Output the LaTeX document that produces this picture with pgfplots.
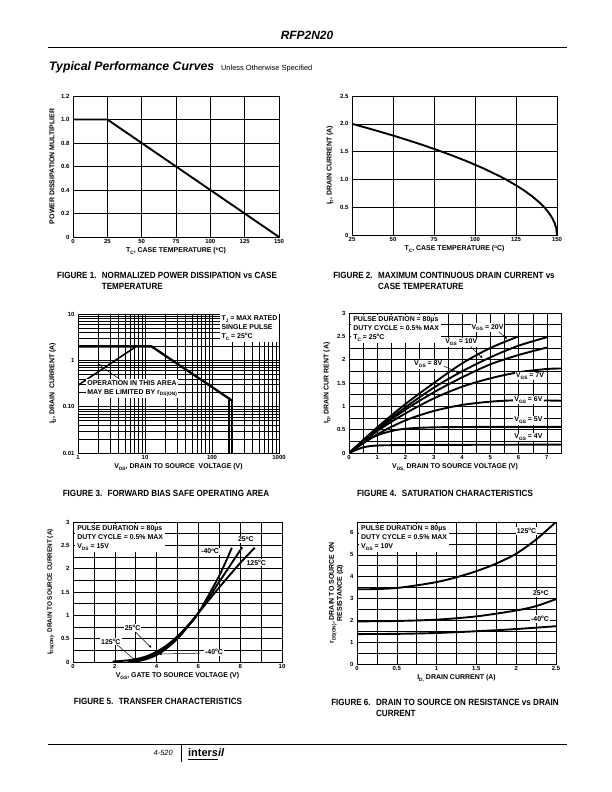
\documentclass[border=0pt]{standalone}
\usepackage{pgfplots}
\pgfplotsset{compat=1.18}
\usepackage{fontspec}
\setmainfont{Liberation Sans}
\newfontfamily\capfont[FakeStretch=0.9]{Liberation Sans}
\usetikzlibrary{arrows.meta}
\newcommand\sub[1]{\raisebox{-0.45ex}{\fontsize{4.8}{5}\selectfont #1}}
\newcommand\degC{\raisebox{0.75ex}{\fontsize{4.5}{4.5}\selectfont o}C}
\newcommand\annot{\fontsize{7}{9}\selectfont\bfseries}
\newcommand\capf{\capfont\fontsize{9}{10.5}\selectfont\bfseries}
\pgfplotsset{
  ds/.style={scale only axis, anchor=south west,
    axis line style={line width=0.9pt},
    grid=both,
    major grid style={black, line width=0.45pt},
    minor grid style={black, line width=0.45pt},
    major tick length=0pt, minor tick length=0pt,
    ticklabel style={font=\fontsize{6}{6.5}\selectfont\bfseries},
    /pgf/number format/assume math mode=true,
    label style={font=\fontsize{7}{8}\selectfont\bfseries},
    xticklabel style={yshift=1pt},
    xlabel style={yshift=3pt},
  },
  crv/.style={black, line width=1.9pt, no marks, line join=round},
}
\tikzset{
  tag/.style={fill=white, inner sep=1pt, font=\annot},
  tbox/.style={fill=white, inner sep=2pt, align=left, font=\annot},
  arr/.style={-{Latex[length=3pt,width=2.5pt]}, line width=0.5pt},
}
\begin{document}
\begin{tikzpicture}
\fill[white] (0,0) rectangle (612bp,792bp);
\path[use as bounding box] (0,0) rectangle (612bp,792bp);

% header
\node[font=\fontsize{12}{13}\selectfont\bfseries\itshape] at (307bp,757bp) {RFP2N20};
\draw[line width=1pt] (48bp,744bp) -- (567bp,744bp);
\node[anchor=base west, inner sep=0pt] at (49bp,721bp) {\fontsize{12.3}{14}\selectfont\bfseries\itshape Typical Performance Curves\ \ \fontsize{7.5}{8}\selectfont\mdseries\upshape Unless Otherwise Specified};

% footer
\draw[line width=1pt] (48bp,48bp) -- (567bp,48bp);
\draw[line width=0.8pt] (181bp,48bp) -- (181bp,30bp);
\node[anchor=base east, inner sep=0pt, font=\fontsize{7.5}{8}\selectfont\itshape] at (173bp,37bp) {4-520};
\node[anchor=base west, inner sep=0pt, font=\fontsize{11}{12}\selectfont\bfseries] (logo) at (188bp,36bp) {inter\textit{sil}};
\draw[line width=0.9pt] (188bp,33bp) -- (218bp,33bp);

% ---------------- Figure 1
\begin{axis}[ds, at={(73bp,555bp)}, width=206bp, height=141bp,
  xmin=0, xmax=150, ymin=0, ymax=1.2,
  xtick={0,25,50,75,100,125,150},
  ytick={0,0.2,0.4,0.6,0.8,1,1.2},
  yticklabels={0,0.2,0.4,0.6,0.8,1.0,1.2},
  xlabel={T\sub{C}, CASE TEMPERATURE (\degC)},
  ylabel={POWER DISSIPATION MULTIPLIER}]
\addplot[crv] coordinates {(0,1) (25,1) (150,0)};
\end{axis}
\node[anchor=north, font=\capf] at (167bp,524bp)
  {\begin{tabular}{@{}l@{\hspace{0.6em}}l@{}}FIGURE 1. & NORMALIZED POWER DISSIPATION vs CASE\\ & TEMPERATURE\end{tabular}};

% ---------------- Figure 2
\begin{axis}[ds, at={(352bp,557bp)}, width=205bp, height=139bp,
  xmin=25, xmax=150, ymin=0, ymax=2.5,
  xtick={25,50,75,100,125,150},
  ytick={0,0.5,1,1.5,2,2.5},
  yticklabels={0,0.5,1.0,1.5,2.0,2.5},
  xlabel={T\sub{C}, CASE TEMPERATURE (\degC)},
  ylabel={I\sub{D}, DRAIN CURRENT (A)}]
\addplot[crv] coordinates {(25,2.000) (35,1.918) (45,1.833) (55,1.744) (65,1.649) (75,1.549) (85,1.442) (95,1.327) (105,1.200) (115,1.058) (120,0.980) (125,0.894) (130,0.800) (135,0.693) (140,0.566) (143,0.473) (145,0.400) (147,0.310) (148.5,0.219) (149.5,0.126) (150,0)};
\end{axis}
\node[anchor=north, font=\capf] at (444bp,524bp)
  {\begin{tabular}{@{}l@{\hspace{0.6em}}l@{}}FIGURE 2. & MAXIMUM CONTINUOUS DRAIN CURRENT vs\\ & CASE TEMPERATURE\end{tabular}};

% ---------------- Figure 3
\begin{axis}[ds, at={(78bp,339bp)}, width=201bp, height=139bp,
  xmode=log, ymode=log,
  xmin=1, xmax=1000, ymin=0.01, ymax=10,
  xtick={1,10,100,1000}, xticklabels={1,10,100,1000},
  ytick={0.01,0.1,1,10}, yticklabels={0.01,0.10,1,10},
  minor xtick={2,3,4,5,6,7,8,9,20,30,40,50,60,70,80,90,200,300,400,500,600,700,800,900},
  minor ytick={0.02,0.03,0.04,0.05,0.06,0.07,0.08,0.09,0.2,0.3,0.4,0.5,0.6,0.7,0.8,0.9,2,3,4,5,6,7,8,9},
  xlabel={V\sub{DS}, DRAIN TO SOURCE\ \ VOLTAGE (V)},
  ylabel={I\sub{D}, DRAIN\ \ CURRENT (A)}]
\addplot[black, line width=2.3pt, line join=round] coordinates {(1,2) (12.5,2) (200,0.135)};
\addplot[black, line width=1.6pt] coordinates {(1,0.29) (7.4,2)};
\addplot[black, line width=1.8pt] coordinates {(200,0.135) (200,0.01)};
\addplot[black, line width=1.8pt] coordinates {(178,0.15) (178,0.01)};
\node[tbox, anchor=north east, inner sep=1.5pt] at (rel axis cs:1,1) {T\sub{J} = MAX RATED\\SINGLE PULSE\\T\sub{C} = 25\degC};
\node[tbox, anchor=north west, inner sep=1.5pt] (op) at (axis cs:1.3,0.40) {OPERATION IN THIS AREA\\MAY BE LIMITED BY r\sub{DS(ON)}};
\draw[arr] (axis cs:4.2,0.39) -- (axis cs:1.95,0.85);
\end{axis}
\node[anchor=north, font=\capf] at (166bp,305bp)
  {FIGURE 3.\hspace{0.6em}FORWARD BIAS SAFE OPERATING AREA};

% ---------------- Figure 4
\begin{axis}[ds, at={(349bp,339bp)}, width=212bp, height=140bp,
  xmin=0, xmax=7.5, ymin=0, ymax=3,
  xtick={0,1,2,3,4,5,6,7},
  ytick={0,0.5,1,1.5,2,2.5,3},
  minor xtick={0.5,1.5,2.5,3.5,4.5,5.5,6.5},
  minor ytick={0.25,0.75,1.25,1.75,2.25,2.75},
  xlabel={V\sub{DS,} DRAIN TO SOURCE VOLTAGE (V)},
  ylabel={I\sub{D}, DRAIN CUR RENT (A)}]
\addplot[crv, smooth] coordinates {(0,0) (1,0.55) (2,1.05) (3,1.5) (4,1.92) (5,2.25) (6,2.5)};
\addplot[crv, smooth] coordinates {(0,0) (1,0.52) (2,0.98) (3,1.4) (4,1.75) (5,2.05) (6,2.3) (7,2.48)};
\addplot[crv, smooth] coordinates {(0,0) (1,0.5) (2,0.93) (3,1.3) (4,1.62) (5,1.9) (6,2.1) (7,2.26)};
\addplot[crv, smooth] coordinates {(0,0) (1,0.47) (2,0.85) (3,1.17) (4,1.42) (5,1.6) (6,1.73) (7,1.8) (7.5,1.81)};
\addplot[crv, smooth] coordinates {(0,0) (1,0.4) (2,0.7) (3,0.9) (4,1.03) (5,1.1) (6,1.13) (7.5,1.12)};
\addplot[crv, smooth] coordinates {(0,0) (0.5,0.22) (1,0.38) (1.5,0.47) (2,0.52) (3,0.55) (5,0.56) (7.5,0.56)};
\addplot[crv, smooth] coordinates {(0,0) (0.5,0.12) (1,0.16) (2,0.17) (4,0.175) (7.5,0.18)};
\node[tbox, anchor=north west] at (rel axis cs:0.01,0.99) {PULSE DURATION = 80µs\\DUTY CYCLE = 0.5\% MAX\\T\sub{C} = 25\degC};
\node[tag] at (axis cs:4.9,2.69) {V\sub{GS} = 20V};
\draw[arr] (axis cs:5.3,2.6) -- (axis cs:5.6,2.44);
\node[tag] at (axis cs:3.97,2.37) {V\sub{GS} = 10V};
\draw[arr] (axis cs:4.3,2.28) -- (axis cs:4.73,2.03);
\node[tag] at (axis cs:2.8,1.9) {V\sub{GS} = 8V};
\draw[arr] (axis cs:3.35,1.86) -- (axis cs:3.9,1.72);
\node[tag] at (axis cs:6.4,1.65) {V\sub{GS} = 7V};
\node[tag] at (axis cs:6.35,1.14) {V\sub{GS} = 6V};
\node[tag] at (axis cs:6.35,0.70) {V\sub{GS} = 5V};
\node[tag] at (axis cs:6.35,0.34) {V\sub{GS} = 4V};
\end{axis}
\node[anchor=north, font=\capf] at (445bp,305bp)
  {FIGURE 4.\hspace{0.6em}SATURATION CHARACTERISTICS};

% ---------------- Figure 5
\begin{axis}[ds, at={(73bp,130bp)}, width=209bp, height=140bp,
  xmin=0, xmax=10, ymin=0, ymax=3,
  xtick={0,2,4,6,8,10},
  minor xtick={1,3,5,7,9},
  ytick={0,0.5,1,1.5,2,2.5,3},
  minor ytick={0.25,0.75,1.25,1.75,2.25,2.75},
  xlabel={V\sub{GS}, GATE TO SOURCE VOLTAGE (V)},
  ylabel style={font=\fontsize{6.4}{7}\selectfont\bfseries},
  ylabel={I\sub{DS(ON)}, DRAIN TO SOURCE CURRENT (A)}]
\addplot[crv, smooth] coordinates {(1.9,0.01) (2.5,0.03) (3,0.06) (3.5,0.12) (4,0.22) (4.5,0.36) (5,0.55) (5.5,0.78) (6,1.05) (7,1.6) (8,2.12) (8.7,2.45)};
\addplot[crv, smooth] coordinates {(2.6,0.0) (3,0.03) (3.5,0.09) (4,0.19) (4.5,0.34) (5,0.54) (5.5,0.78) (6,1.05) (7,1.72) (8.1,2.46)};
\addplot[crv, smooth] coordinates {(2.9,0.0) (3.5,0.06) (4,0.15) (4.5,0.3) (5,0.5) (5.5,0.76) (6,1.05) (7,1.85) (7.6,2.45)};
\node[tbox, anchor=north west] at (rel axis cs:0.01,0.99) {PULSE DURATION = 80µs\\DUTY CYCLE = 0.5\% MAX\\V\sub{DS} = 15V};
\node[tag] at (axis cs:6.56,2.37) {-40\degC};
\node[tag] at (axis cs:8.27,2.63) {25\degC};
\node[tag] at (axis cs:8.77,2.13) {125\degC};
\node[tag] at (axis cs:2.85,0.73) {25\degC};
\draw[arr] (axis cs:3.0,0.64) -- (axis cs:3.76,0.3);
\node[tag] at (axis cs:1.81,0.44) {125\degC};
\draw[arr] (axis cs:2.1,0.37) -- (axis cs:3.0,0.03);
\node[tag] at (axis cs:6.75,0.21) {-40\degC};
\draw[arr] (axis cs:6.1,0.19) -- (axis cs:4.1,0.17);
\end{axis}
\node[anchor=north, font=\capf] at (158bp,97bp)
  {FIGURE 5.\hspace{0.6em}TRANSFER CHARACTERISTICS};

% ---------------- Figure 6
\begin{axis}[ds, at={(357bp,128bp)}, width=199bp, height=142bp,
  xmin=0, xmax=2.5, ymin=0, ymax=6.5,
  xtick={0,0.5,1,1.5,2,2.5},
  minor xtick={0.25,0.75,1.25,1.75,2.25},
  ytick={0,1,2,3,4,5,6},
  minor ytick={0.5,1.5,2.5,3.5,4.5,5.5},
  xlabel={I\sub{D,} DRAIN CURRENT (A)},
  ylabel style={align=center},
  ylabel={r\sub{DS(ON)}, DRAIN TO SOURCE ON\\RESISTANCE (Ω)}]
\addplot[crv, smooth] coordinates {(0,3.42) (0.25,3.43) (0.5,3.48) (0.75,3.6) (1,3.75) (1.25,3.97) (1.5,4.25) (1.75,4.6) (2,5.05) (2.25,5.7) (2.5,6.5)};
\addplot[crv, smooth] coordinates {(0,1.95) (0.5,1.97) (1,2.03) (1.5,2.18) (2,2.45) (2.25,2.65) (2.5,2.97)};
\addplot[crv, smooth] coordinates {(0,1.37) (0.5,1.38) (1,1.42) (1.5,1.5) (2,1.6) (2.5,1.73)};
\node[tbox, anchor=north west] at (rel axis cs:0.01,0.99) {PULSE DURATION = 80µs\\DUTY CYCLE = 0.5\% MAX\\V\sub{GS} = 10V};
\node[tag] at (axis cs:2.13,6.09) {125\degC};
\node[tag] at (axis cs:2.31,3.23) {25\degC};
\node[tag] at (axis cs:2.30,2.06) {-40\degC};
\end{axis}
\node[anchor=north, font=\capf] at (445bp,97bp)
  {\begin{tabular}{@{}l@{\hspace{0.6em}}l@{}}FIGURE 6. & DRAIN TO SOURCE ON RESISTANCE vs DRAIN\\ & CURRENT\end{tabular}};
\end{tikzpicture}
\end{document}
